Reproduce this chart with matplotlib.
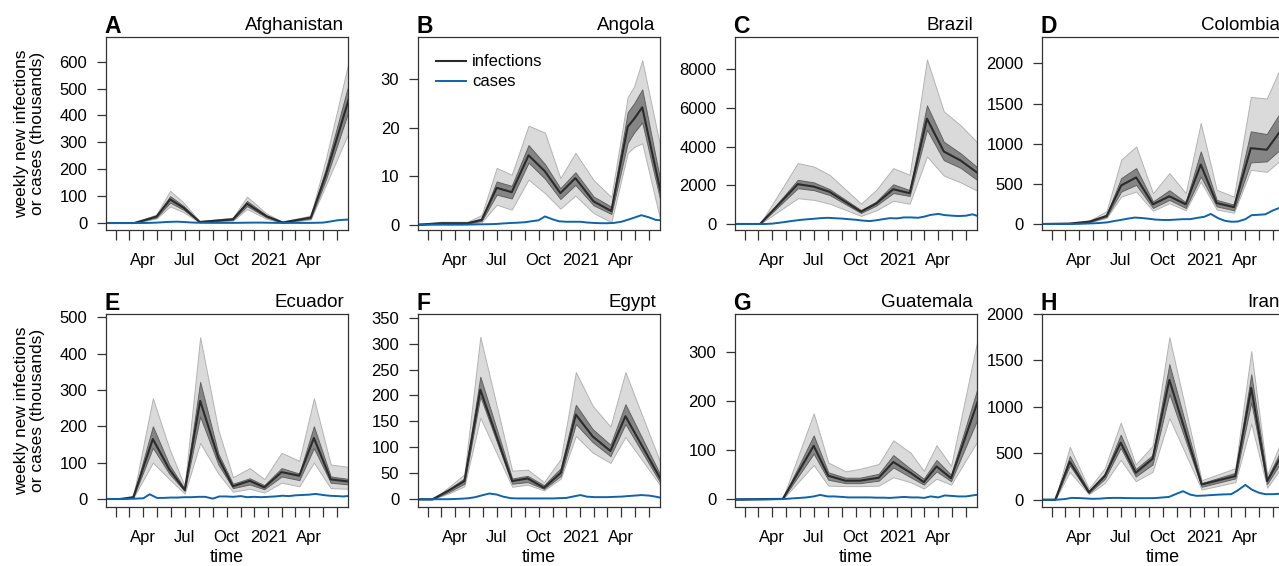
import pandas as pd
import matplotlib
matplotlib.use("Agg")
import matplotlib.pyplot as plt

plt.rcParams['font.family'] = ['Liberation Sans', 'DejaVu Sans']

# weekly new infections / cases, in thousands
# reported cases are read on a semi-monthly grid (1st and 15th)
case_dates = pd.date_range("2020-01-01", "2021-07-01", freq="SMS")

# A - Afghanistan
afg_dates = ["2020-01-10", "2020-03-12", "2020-04-30", "2020-05-30", "2020-06-29", "2020-08-03",
             "2020-10-15", "2020-11-15", "2020-12-28", "2021-02-01", "2021-04-04", "2021-05-07",
             "2021-06-27"]
afg_med = [0, 0, 24, 88, 56, 4, 14, 72, 25, 2, 20, 178, 462]
afg_in_lo = [0, 0, 21, 76, 49, 3, 12, 63, 21, 1, 17, 160, 420]
afg_in_hi = [0, 0, 27, 100, 63, 5, 16, 82, 29, 3, 23, 200, 520]
afg_out_lo = [0, 0, 17, 62, 40, 2, 9, 52, 16, 0, 13, 140, 338]
afg_out_hi = [0, 0, 32, 120, 75, 7, 20, 98, 35, 5, 28, 235, 603]
afg_cases = [0, 0, 0, 0, 0, 0, 0.2, 0.5, 1.5, 3, 4.5, 5, 3.5, 2, 1, 0.8, 0.5, 0.5, 0.5,
             0.5, 0.8, 1.2, 1.5, 1.5, 1, 0.5, 0.3, 0.3, 0.3, 0.3, 0.4, 0.8, 1.5, 5, 10, 12, 13]

# B - Angola
ago_dates = ["2020-01-10", "2020-03-01", "2020-04-28", "2020-05-29", "2020-07-01", "2020-08-03",
             "2020-09-09", "2020-10-15", "2020-11-18", "2020-12-21", "2021-01-30", "2021-03-10",
             "2021-04-15", "2021-04-29", "2021-05-17", "2021-06-27"]
ago_med = [0, 0.3, 0.3, 1.0, 7.6, 6.7, 14.3, 11.0, 6.5, 9.6, 4.8, 2.8, 20.2, 21.8, 24.2, 6.5]
ago_in_lo = [0, 0.2, 0.2, 0.8, 6.2, 5.4, 12.8, 9.5, 5.3, 8.2, 4.0, 2.2, 16.9, 19, 21.1, 4.5]
ago_in_hi = [0, 0.4, 0.4, 1.2, 8.9, 8.0, 16.4, 12.5, 7.5, 10.8, 5.8, 3.7, 23.2, 25, 27.9, 8.5]
ago_out_lo = [0, 0.1, 0.1, 0.5, 4.1, 3.1, 9.3, 6.5, 3.3, 6.0, 2.4, 0.5, 14.8, 16, 16.8, 0.5]
ago_out_hi = [0, 0.6, 0.6, 2.0, 11.7, 10.3, 20.4, 19.0, 9.6, 14.8, 9.2, 5.7, 26.3, 28.5, 33.9, 15.5]
ago_cases = [0, 0, 0, 0, 0, 0, 0, 0, 0.02, 0.05, 0.08, 0.1, 0.15, 0.25, 0.35, 0.4, 0.5, 0.7, 0.9,
             1.7, 1.1, 0.7, 0.6, 0.6, 0.6, 0.45, 0.35, 0.3, 0.3, 0.35, 0.6, 1.0, 1.5, 1.95, 1.5, 1.0, 0.85]

# C - Brazil
bra_dates = ["2020-01-10", "2020-03-05", "2020-05-27", "2020-07-01", "2020-08-05", "2020-10-13",
             "2020-11-15", "2020-12-23", "2021-01-28", "2021-03-07", "2021-04-13", "2021-05-20",
             "2021-06-27"]
bra_med = [0, 0, 2058, 1934, 1659, 637, 1050, 1797, 1590, 5441, 3746, 3280, 2627]
bra_in_lo = [0, 0, 1850, 1750, 1500, 570, 950, 1600, 1450, 4870, 3300, 2900, 2250]
bra_in_hi = [0, 0, 2281, 2150, 1800, 720, 1150, 2050, 1750, 6130, 4250, 3650, 2900]
bra_out_lo = [0, 0, 1332, 1250, 1050, 420, 700, 1200, 1050, 3490, 2500, 2150, 1700]
bra_out_hi = [0, 0, 3147, 2970, 2540, 1050, 1750, 2885, 2540, 8500, 5820, 5100, 4180]
bra_cases = [0, 0, 0, 0, 0, 0, 20, 60, 110, 160, 210, 240, 270, 300, 320, 300, 280, 250, 220,
             180, 150, 190, 250, 300, 290, 340, 340, 320, 380, 470, 520, 460, 430, 410, 430, 500, 380]

# D - Colombia
col_dates = ["2020-01-10", "2020-03-10", "2020-04-24", "2020-05-31", "2020-07-02", "2020-08-04",
             "2020-09-10", "2020-10-16", "2020-11-21", "2020-12-24", "2021-01-28", "2021-03-07",
             "2021-04-13", "2021-05-18", "2021-06-27"]
col_med = [0, 5, 30, 100, 480, 580, 245, 345, 245, 740, 260, 210, 945, 925, 1235]
col_in_lo = [0, 4, 25, 90, 404, 488, 200, 300, 200, 592, 220, 170, 767, 780, 980]
col_in_hi = [0, 6, 35, 115, 571, 696, 280, 420, 270, 904, 300, 240, 1154, 1120, 1480]
col_out_lo = [0, 3, 20, 75, 341, 404, 165, 260, 170, 529, 180, 140, 675, 650, 840]
col_out_hi = [0, 8, 45, 160, 800, 966, 384, 634, 384, 1258, 425, 341, 1583, 1563, 2070]
col_cases = [0, 0, 0, 0, 0, 0, 2, 5, 8, 12, 20, 35, 50, 65, 80, 75, 65, 55, 50,
             50, 55, 60, 60, 75, 90, 125, 70, 40, 28, 30, 60, 110, 115, 120, 170, 200, 210]

# E - Ecuador
ecu_dates = ["2020-01-10", "2020-02-10", "2020-03-10", "2020-04-22", "2020-05-28", "2020-07-01",
             "2020-08-04", "2020-09-13", "2020-10-15", "2020-11-21", "2020-12-23", "2021-01-30",
             "2021-03-10", "2021-04-11", "2021-05-18", "2021-06-27"]
ecu_med = [0, 0, 5, 165, 82, 25, 270, 113, 35, 50, 32, 74, 64, 168, 54, 48]
ecu_in_lo = [0, 0, 4, 141, 70, 22, 227, 95, 30, 40, 27, 62, 52, 140, 45, 40]
ecu_in_hi = [0, 0, 6, 200, 95, 28, 322, 125, 42, 57, 38, 85, 70, 200, 62, 55]
ecu_out_lo = [0, 0, 3, 100, 55, 15, 154, 70, 20, 28, 18, 45, 35, 100, 30, 28]
ecu_out_hi = [0, 0, 8, 277, 140, 35, 445, 190, 60, 85, 55, 127, 105, 277, 95, 88]
ecu_cases = [0, 0, 0, 0, 0.5, 1, 2, 13, 3, 3, 4, 4, 5, 5, 6, 6, 1, 7, 7,
             6, 8, 5, 6, 5, 6, 7, 9, 8, 10, 11, 12, 14, 11, 9, 8, 7, 9]

# F - Egypt
egy_dates = ["2020-01-10", "2020-02-11", "2020-03-20", "2020-04-21", "2020-05-26", "2020-08-04",
             "2020-09-07", "2020-10-13", "2020-11-19", "2020-12-22", "2021-01-28", "2021-03-08",
             "2021-04-10", "2021-06-27"]
egy_med = [0, 0, 18, 35, 211, 35, 40, 22, 51, 163, 121, 93, 160, 38]
egy_in_lo = [0, 0, 15, 30, 198, 30, 33, 20, 45, 145, 110, 83, 145, 30]
egy_in_hi = [0, 0, 21, 40, 236, 40, 45, 27, 60, 182, 135, 105, 183, 45]
egy_out_lo = [0, 0, 12, 25, 157, 24, 28, 17, 40, 122, 90, 70, 120, 25]
egy_out_hi = [0, 0, 25, 48, 313, 55, 57, 33, 78, 245, 180, 140, 245, 68]
egy_cases = [0, 0, 0, 0, 0, 0, 0.5, 1, 2, 4, 8, 11, 9, 5, 2, 1.5, 1.5, 1.5, 1.5,
             1.5, 1.5, 2, 2.5, 5, 8, 5, 4, 4, 4, 4.5, 5, 6, 7, 8, 7, 5, 2]

# G - Guatemala
gtm_dates = ["2020-01-10", "2020-04-24", "2020-07-01", "2020-08-02", "2020-09-09", "2020-10-10",
             "2020-11-21", "2020-12-23", "2021-01-30", "2021-02-28", "2021-03-28", "2021-04-29",
             "2021-06-27"]
gtm_med = [0, 1, 109, 48, 38, 38, 44, 76, 54, 35, 67, 43, 200]
gtm_in_lo = [0, 1, 93, 40, 33, 33, 38, 65, 45, 30, 57, 37, 165]
gtm_in_hi = [0, 1.5, 130, 55, 44, 44, 52, 90, 62, 42, 80, 50, 228]
gtm_out_lo = [0, 0.5, 70, 28, 27, 27, 28, 45, 35, 22, 42, 30, 120]
gtm_out_hi = [0, 2, 175, 75, 57, 62, 72, 120, 95, 58, 110, 68, 328]
gtm_cases = [0, 0, 0, 0, 0, 0, 0.3, 0.5, 1, 2, 3, 4, 6, 9, 6, 6, 5, 4, 4,
             4, 4, 3.5, 3.5, 3, 4, 5, 4, 4, 3, 6, 4, 8, 7, 6, 6, 8, 10]

# H - Iran
irn_dates = ["2020-01-10", "2020-02-08", "2020-03-11", "2020-04-22", "2020-05-27", "2020-07-01",
             "2020-08-03", "2020-09-09", "2020-10-16", "2020-12-26", "2021-03-10", "2021-04-14",
             "2021-05-19", "2021-06-27"]
irn_med = [0, 0, 410, 80, 255, 615, 290, 440, 1290, 165, 255, 1205, 200, 540]
irn_in_lo = [0, 0, 370, 70, 225, 560, 250, 380, 1140, 140, 230, 1050, 170, 470]
irn_in_hi = [0, 0, 470, 95, 280, 700, 330, 480, 1460, 180, 290, 1350, 230, 620]
irn_out_lo = [0, 0, 300, 60, 180, 430, 200, 300, 880, 110, 190, 820, 130, 400]
irn_out_hi = [0, 0, 570, 120, 340, 830, 380, 580, 1750, 210, 340, 1600, 270, 720]
irn_cases = [0, 0, 0, 2, 8, 20, 18, 14, 10, 12, 18, 20, 20, 18, 17, 17, 17, 18, 25,
             30, 65, 92, 55, 42, 45, 50, 55, 58, 60, 100, 160, 110, 75, 60, 60, 65, 70]

letters = ["A", "B", "C", "D", "E", "F", "G", "H"]
countries = ["Afghanistan", "Angola", "Brazil", "Colombia", "Ecuador", "Egypt", "Guatemala", "Iran"]

month_ticks = pd.date_range("2020-02-01", "2021-06-01", freq="MS")
month_labels = {"2020-04": "Apr", "2020-07": "Jul", "2020-10": "Oct", "2021-01": "2021", "2021-04": "Apr"}

OUTER = "#dadada"
OUTER_EDGE = "#b3b3b3"
INNER = "#858585"
INNER_EDGE = "#626262"
MED = "#2b2b2b"
BLUE = "#1063a8"
AXC = "#333333"

W, H = 1279, 566
fig = plt.figure(figsize=(W / 100, H / 100), dpi=100)

lefts = [106, 418, 735, 1042]
tops = [37, 314]
aw, ah = 242, 193

panels = [
    (afg_dates, afg_med, afg_in_lo, afg_in_hi, afg_out_lo, afg_out_hi, afg_cases, (-26, 692), range(0, 601, 100)),
    (ago_dates, ago_med, ago_in_lo, ago_in_hi, ago_out_lo, ago_out_hi, ago_cases, (-1.1, 38.7), range(0, 31, 10)),
    (bra_dates, bra_med, bra_in_lo, bra_in_hi, bra_out_lo, bra_out_hi, bra_cases, (-310, 9660), range(0, 8001, 2000)),
    (col_dates, col_med, col_in_lo, col_in_hi, col_out_lo, col_out_hi, col_cases, (-75, 2330), range(0, 2001, 500)),
    (ecu_dates, ecu_med, ecu_in_lo, ecu_in_hi, ecu_out_lo, ecu_out_hi, ecu_cases, (-22, 509), range(0, 501, 100)),
    (egy_dates, egy_med, egy_in_lo, egy_in_hi, egy_out_lo, egy_out_hi, egy_cases, (-15, 357), range(0, 351, 50)),
    (gtm_dates, gtm_med, gtm_in_lo, gtm_in_hi, gtm_out_lo, gtm_out_hi, gtm_cases, (-15.5, 377), range(0, 301, 100)),
    (irn_dates, irn_med, irn_in_lo, irn_in_hi, irn_out_lo, irn_out_hi, irn_cases, (-78, 2000), range(0, 2001, 500)),
]

for i, (dates, med, in_lo, in_hi, out_lo, out_hi, cases, ylim, yt) in enumerate(panels):
    row, col = divmod(i, 4)
    l, t = lefts[col], tops[row]
    ax = fig.add_axes([l / W, 1 - (t + ah) / H, aw / W, ah / H])
    d = pd.to_datetime(dates)
    ax.fill_between(d, out_lo, out_hi, facecolor=OUTER, edgecolor=OUTER_EDGE, lw=0.7)
    ax.fill_between(d, in_lo, in_hi, facecolor=INNER, edgecolor=INNER_EDGE, lw=0.7)
    ax.plot(d, med, color=MED, lw=1.5, label="infections")
    ax.plot(case_dates, cases, color=BLUE, lw=1.4, label="cases")

    ax.set_xlim(pd.Timestamp("2020-01-10"), pd.Timestamp("2021-06-25"))
    ax.set_ylim(*ylim)
    ax.set_yticks(list(yt))
    ax.set_xticks(month_ticks)
    ax.set_xticklabels([month_labels.get(m.strftime("%Y-%m"), "") for m in month_ticks])
    ax.tick_params(axis="x", length=7, width=0.9, pad=9.5, labelsize=12, colors=AXC, labelcolor="black")
    ax.tick_params(axis="y", length=6.5, width=0.9, pad=7, labelsize=12, colors=AXC, labelcolor="black")
    for s in ax.spines.values():
        s.set_color(AXC)
        s.set_linewidth(0.9)

    ax.annotate(letters[i], (0, 1), xycoords="axes fraction", xytext=(-1, 3), textcoords="offset points",
                ha="left", va="baseline", fontsize=16.5, fontweight="bold")
    ax.annotate(countries[i], (1, 1), xycoords="axes fraction", xytext=(-3, 5), textcoords="offset points",
                ha="right", va="baseline", fontsize=13.5)

    if row == 1:
        ax.set_xlabel("time", fontsize=13, labelpad=3)
    if col == 0:
        fig.text(29.5 / W, 1 - (t + ah / 2) / H, "weekly new infections\nor cases (thousands)",
                 rotation=90, ha="center", va="center", fontsize=12.5, linespacing=1.05)
    if i == 1:
        ax.legend(loc="upper left", frameon=False, fontsize=12, handlelength=1.8, handletextpad=0.4,
                  labelspacing=0.3, borderaxespad=0.3, borderpad=0.75)

fig.savefig("out.png", dpi=100)
